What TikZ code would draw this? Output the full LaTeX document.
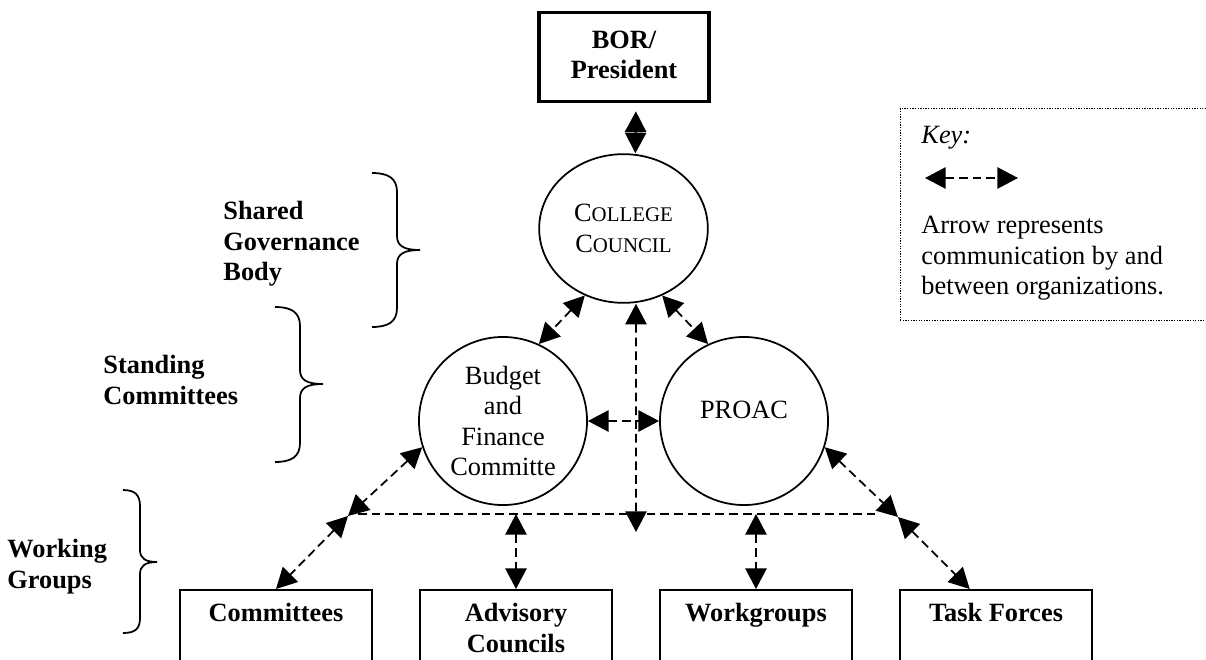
\documentclass[tikz,border=0pt]{standalone}
\usepackage{fontspec}
\setmainfont{Liberation Serif}
\usetikzlibrary{arrows.meta,positioning,calc,shapes.geometric}
\newcommand{\fs}{\fontsize{12}{13.8}\selectfont}
\newcommand{\smc}[2]{#1{\fontsize{9.5}{13.8}\selectfont #2}}

\begin{document}
\begin{tikzpicture}[x=0.016cm, y=-0.016cm, font=\fs,
    comm/.style={line width=0.8pt, dash pattern=on 0.14cm off 0.08cm,
      >={Triangle[length=0.33cm,width=0.34cm]}, <->},
    dline/.style={line width=0.8pt, dash pattern=on 0.14cm off 0.08cm},
    orgc/.style={circle, draw, line width=0.8pt, minimum size=2.69cm,
      inner sep=0pt, align=center},
    wbox/.style={rectangle, draw, line width=0.9pt, minimum width=3.07cm,
      minimum height=1.2cm},
    wtext/.style={font=\fs\bfseries, align=center, inner sep=0pt, anchor=north},
    grp/.style={font=\fs\bfseries, align=left, inner sep=0pt, anchor=north west},
    brc/.style={line width=0.8pt}]
    \useasboundingbox (0,0) rectangle (1206,660);
    % ---- top of the chart
    \node[rectangle, draw, line width=1.4pt, minimum width=2.72cm, minimum height=1.41cm,
      font=\fs\bfseries, align=center, text depth=0.08cm] (bor) at (624,57) {BOR/\\President};
    \node[ellipse, draw, line width=0.8pt, minimum width=2.70cm, minimum height=2.38cm,
      inner sep=0pt, align=center] (cc) at (623.5,228.5) {\smc{C}{OLLEGE}\\\smc{C}{OUNCIL}};
    \node[orgc] (bfc) at (503,421) {Budget\\and\\Finance\\Committe};
    \node[orgc, text height=0.28cm, text depth=0.37cm] (pro) at (744,421) {PROAC};
    % ---- working groups
    \node[wbox] (cmt) at (276,627.5) {};
    \node[wbox] (adv) at (516,627.5) {};
    \node[wbox] (wg) at (756,627.5) {};
    \node[wbox] (tf) at (996,627.5) {};
    \node[wtext] (cmt-t) at ([yshift=-0.224cm]cmt.north) {Committees};
    \node[wtext] (adv-t) at ([yshift=-0.224cm]adv.north) {Advisory\\Councils};
    \node[wtext] (wg-t) at ([yshift=-0.224cm]wg.north) {Workgroups};
    \node[wtext] (tf-t) at ([yshift=-0.224cm]tf.north) {Task Forces};
    % ---- connectors
    \coordinate (jl) at (348,516);
    \coordinate (jr) at (898,517);
    \coordinate (hl) at (358,514);
    \coordinate (hr) at (880,514);
    \coordinate (vb) at (636,532);
    \draw[comm] ([xshift=0.19cm,yshift=-0.14cm]bor.south) -- ([xshift=0.19cm]cc.north);
    \draw[comm] (cc.240) -- (bfc.65);
    \draw[comm] (cc.300) -- (pro.115);
    \draw[comm] ([xshift=0.2cm]cc.south) -- (vb);
    \draw[comm] (bfc.east) -- (pro.west);
    \draw[dline] (hl) -- (hr);
    \draw[comm] (bfc.198) -- (jl);
    \draw[comm] (jl) -- (cmt.north);
    \draw[comm] (hl -| adv.north) -- (adv.north);
    \draw[comm] (hl -| wg.north) -- (wg.north);
    \draw[comm] (pro.-18) -- (jr);
    \draw[comm] (jr) -- ([xshift=-0.42cm]tf.north);
    % ---- group labels and braces
    \node[grp] (sgb) at (223,201) {Shared\\Governance\\Body};
    \node[grp] (stc) at (103,355) {Standing\\Committees};
    \node[grp] (wkg) at (7,539) {Working\\Groups};
    \draw[brc] (372,173) .. controls (388,173) and (397,178) .. (397,192) -- (397,236)
      .. controls (397,246) and (404,250) .. (420,250)
      .. controls (404,250) and (397,254) .. (397,264) -- (397,308)
      .. controls (397,322) and (388,327) .. (372,327);
    \draw[brc] (275,307) .. controls (291,307) and (300,312) .. (300,326) -- (300,370)
      .. controls (300,380) and (307,384) .. (323,384)
      .. controls (307,384) and (300,388) .. (300,398) -- (300,443)
      .. controls (300,457) and (291,462) .. (275,462);
    \draw[brc] (123,490) .. controls (135,490) and (140,495) .. (140,506) -- (140,550)
      .. controls (140,558) and (145,562) .. (157,562)
      .. controls (145,562) and (140,566) .. (140,574) -- (140,618)
      .. controls (140,629) and (135,633) .. (123,633);
    % ---- key
    \node[rectangle, draw, line width=0.5pt, dash pattern=on 0.6pt off 0.6pt,
      minimum width=5.04cm, minimum height=3.38cm] (key) at (1057.5,214.5) {};
    \node[anchor=north west, inner sep=0pt, font=\fs\itshape] (key-t) at (921,126) {Key:};
    \coordinate (ka) at (925,178);
    \coordinate (kb) at (1018,178);
    \draw[comm] (ka) -- (kb);
    \node[anchor=north west, inner sep=0pt, align=left] (key-d) at (921,216)
      {Arrow represents\\communication by and\\between organizations.};
  \end{tikzpicture}
\end{document}
